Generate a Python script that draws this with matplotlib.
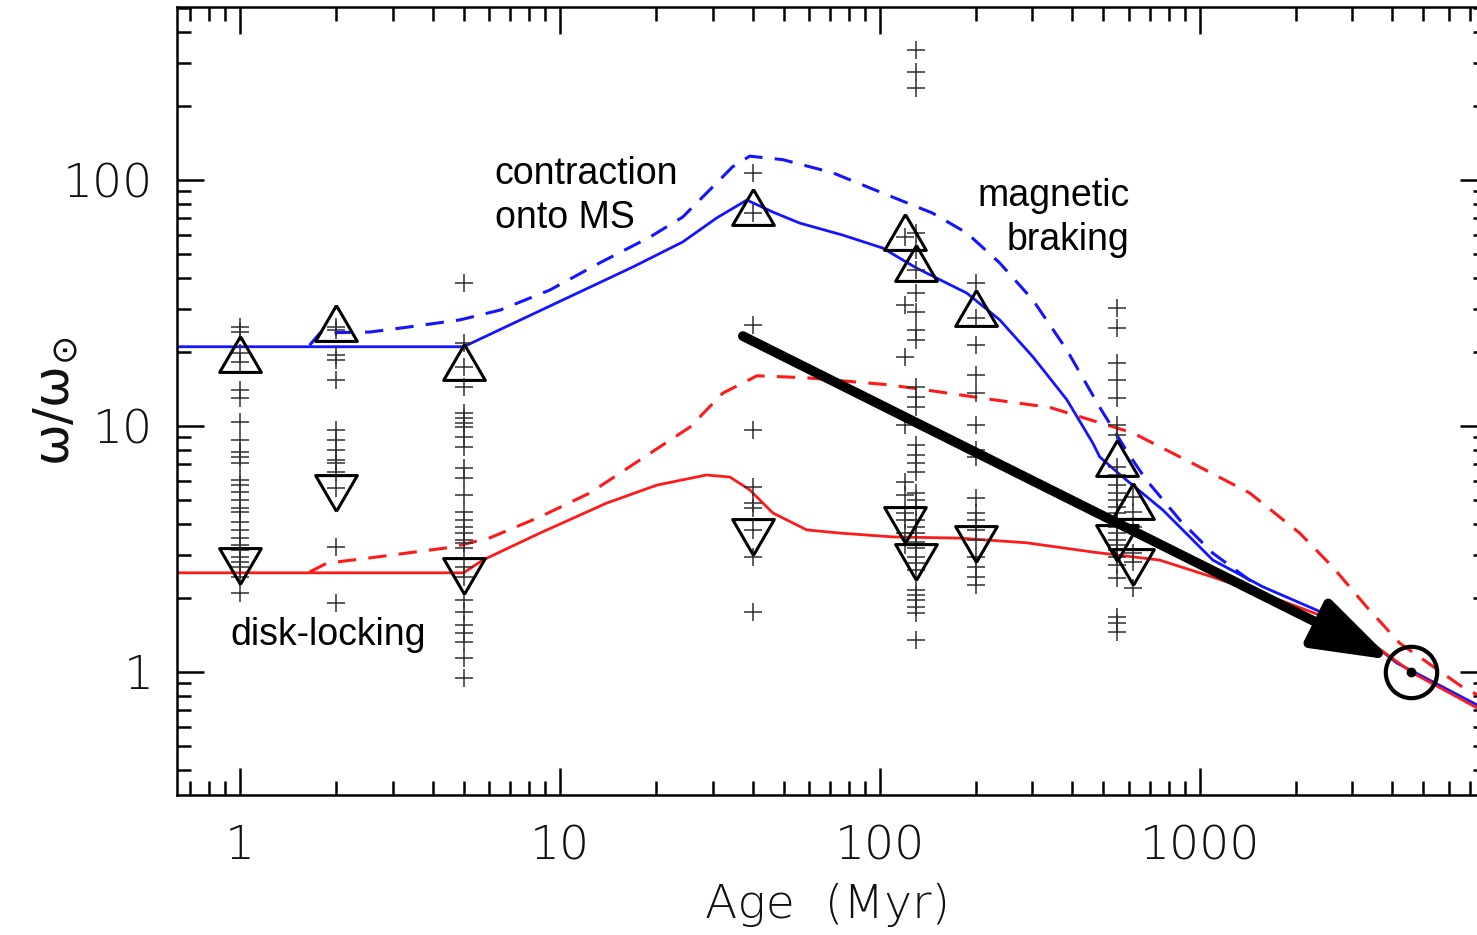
import numpy as np
import matplotlib.pyplot as plt
from matplotlib.ticker import LogLocator, NullFormatter

# individual stars (omega / omega_sun) in each cluster, age in Myr
plus_1 = [25.3, 24.1, 19.8, 18.2, 14.0, 13.0, 10.4, 8.77, 7.84, 7.49, 7.08, 6.03, 5.76,
          5.39, 5.0, 4.64, 4.47, 4.07, 3.78, 3.50, 3.28, 3.13, 2.93, 2.80, 2.67, 2.43, 2.10]
plus_2 = [25.3, 24.6, 19.5, 18.5, 15.4, 9.6, 8.8, 8.0, 7.3, 7.1, 6.5, 5.6, 3.22, 1.91]
plus_5 = [38.1, 21.7, 17.4, 14.4, 11.3, 10.8, 10.3, 9.9, 9.0, 8.2, 6.75, 6.15, 5.25, 4.47,
          4.15, 3.89, 3.67, 3.44, 3.35, 3.19, 2.67, 2.43, 1.96, 1.75, 1.55, 1.44, 1.32,
          1.14, 0.945]
plus_40 = [107, 73.6, 25.8, 9.6, 5.65, 4.86, 4.64, 3.78, 2.93, 1.75]
plus_120 = [58.7, 31.0, 19.1, 10.1, 5.92, 5.24, 4.43, 4.15, 3.67, 3.28]
plus_130 = [338, 275, 237, 60.9, 51.9, 43.1, 34.7, 29.1, 24.6, 22.4, 14.4, 13.1, 11.9,
            8.37, 7.62, 7.07, 6.50, 5.35, 5.0, 4.69, 4.15, 3.89, 3.67, 3.37, 3.19, 2.93,
            2.77, 2.60, 2.15, 2.06, 1.96, 1.84, 1.74, 1.35]
plus_200 = [38.1, 27.5, 21.3, 16.1, 13.6, 10.1, 7.98, 7.49, 5.10, 4.43, 4.15, 3.78, 3.44,
            2.93, 2.67, 2.43, 2.26]
plus_550 = [30.2, 25.0, 18.0, 15.4, 13.0, 10.1, 9.2, 6.8, 6.3, 5.76, 5.35, 5.0, 4.69, 4.43,
            4.15, 3.89, 3.67, 3.44, 3.28, 3.13, 2.93, 2.72, 2.41, 1.67, 1.58, 1.45]
plus_620 = [5.14, 4.47, 3.89, 3.05, 2.80, 2.19]

# 90th (up) and 25th (down) percentiles
tri_age = [1, 2, 5, 40, 120, 130, 200, 550, 620]
tri_up = [19.6, 26.2, 18.2, 77.7, 61.5, 46.0, 30.2, 7.41, 4.96]
tri_down = [2.70, 5.34, 2.46, 3.54, 3.96, 2.80, 3.31, 3.35, 2.67]

# rotational evolution models
fast_age = [0.63, 5.0, 10.5, 16.9, 24.2, 30.9, 38.4, 46.3, 56.2, 76.6, 102, 130, 187, 237,
            301, 384, 463, 487, 574, 766, 1099, 1574, 2877, 4128, 7900]
fast_solid = [21.0, 21.0, 33.1, 44.3, 56.0, 70.1, 82.9, 74.1, 66.8, 59.7, 52.9, 43.9, 34.7,
              27.0, 19.1, 12.8, 8.53, 7.48, 6.21, 4.56, 2.85, 2.22, 1.58, 1.088, 0.70]
fast_dash_age = [1.65, 1.78, 2.55, 3.4, 4.87, 6.5, 9.3, 13.3, 19.1, 24.2, 30.9, 34.6, 39.2,
                 49.7, 71.2, 102, 146, 187, 237, 301, 384, 487, 602, 681, 866, 1099, 1471]
fast_dash = [21.3, 23.9, 24.1, 25.3, 27.0, 29.6, 35.7, 46.0, 58.6, 70.7, 97.3, 113, 125,
             121, 107, 88.5, 73.4, 60.9, 46.0, 32.5, 20.4, 11.9, 7.62, 6.03, 4.15, 3.04, 2.30]
slow_age = [0.63, 5.0, 5.74, 8.66, 14.0, 20.1, 28.7, 34.0, 39.2, 46.3, 59.1, 75.0, 110,
            178, 288, 465, 749, 1099, 1778, 2877, 4634, 7900]
slow_solid = [2.53, 2.53, 2.85, 3.67, 4.86, 5.75, 6.32, 6.2, 5.50, 4.43, 3.78, 3.67, 3.54,
              3.50, 3.35, 3.07, 2.85, 2.43, 1.96, 1.55, 0.99, 0.68]
slow_dash_age = [1.65, 1.87, 2.55, 4.63, 6.04, 8.66, 12.4, 17.8, 25.5, 32.3, 41.3, 59.1,
                 107, 140, 225, 340, 618, 1000, 1433, 2053, 2605, 3324, 4217, 6826, 7900]
slow_dash = [2.55, 2.77, 2.91, 3.22, 3.51, 4.27, 5.34, 7.28, 9.9, 13.6, 16.0, 15.7, 14.7,
             14.0, 12.8, 11.9, 9.37, 6.81, 5.34, 3.67, 2.67, 1.84, 1.31, 0.845, 0.78]

# arrow (start, tip) and the Sun
arrow_start = (37.3, 23.2)
arrow_tip = (3981, 1.119)
sun_age, sun_omega = 4570, 1.0

fig = plt.figure(figsize=(14.77, 9.35), dpi=100)
ax = fig.add_axes([0.1198, 0.1497, 0.8869, 0.8428])
ax.set_xscale('log')
ax.set_yscale('log')

blue = '#1414ff'
red = '#ff1a1a'
ax.plot(fast_age, fast_solid, color=blue, lw=2.0, zorder=2)
ax.plot(fast_dash_age, fast_dash, color=blue, lw=2.2, dashes=(6, 4), zorder=2)
ax.plot(slow_age, slow_solid, color=red, lw=2.0, zorder=2)
ax.plot(slow_dash_age, slow_dash, color=red, lw=2.2, dashes=(6, 4), zorder=2)

columns = [(1, plus_1), (2, plus_2), (5, plus_5), (40, plus_40), (120, plus_120),
           (130, plus_130), (200, plus_200), (550, plus_550), (620, plus_620)]
for age, vals in columns:
    ax.plot([age] * len(vals), vals, ls='none', marker='+', ms=13, mew=1.1,
            color='#303030', zorder=3)

up_tri = [(0, 0.86), (-1, -0.86), (1, -0.86), (0, 0.86)]
down_tri = [(0, -0.86), (-1, 0.86), (1, 0.86), (0, -0.86)]
ax.plot(tri_age, tri_up, ls='none', marker=up_tri, ms=30, mfc='none', mec='k',
        mew=2.2, zorder=4)
ax.plot(tri_age, tri_down, ls='none', marker=down_tri, ms=30, mfc='none', mec='k',
        mew=2.2, zorder=4)

ax.annotate('', xy=arrow_tip, xytext=arrow_start,
            arrowprops=dict(arrowstyle='-|>,head_length=4.8,head_width=1.6',
                            mutation_scale=10, lw=7, color='k',
                            shrinkA=0, shrinkB=0), zorder=5)

ax.plot(sun_age, sun_omega, marker='o', ms=37, mfc='none', mec='k', mew=3, zorder=6)
ax.plot(sun_age, sun_omega, marker='o', ms=6, color='k', zorder=6)

# text: va='baseline' anchors the last line's baseline
ax.text(6.26, 63.8, 'contraction\nonto MS', fontsize=27, family='Liberation Sans',
        va='baseline', ha='left', linespacing=1.3)
ax.text(604, 51.9, 'magnetic\nbraking', fontsize=27, family='Liberation Sans',
        va='baseline', ha='right', multialignment='right', linespacing=1.3)
ax.text(0.93, 1.29, 'disk-locking', fontsize=27, family='Liberation Sans',
        va='baseline', ha='left')

ax.set_xlim(0.635, 7900)
ax.set_ylim(0.316, 505)

ax.set_xticks([1, 10, 100, 1000])
ax.set_xticklabels(['1', '10', '100', '1000'])
ax.set_yticks([1, 10, 100])
ax.set_yticklabels(['1', '10', '100'])
ax.xaxis.set_minor_locator(LogLocator(base=10, subs=np.arange(2, 10)))
ax.yaxis.set_minor_locator(LogLocator(base=10, subs=np.arange(2, 10)))
ax.xaxis.set_minor_formatter(NullFormatter())
ax.yaxis.set_minor_formatter(NullFormatter())

ax.tick_params(which='both', direction='in', top=True, right=True, width=1.8,
               color='k', labelsize=34, labelcolor='#111111')
ax.tick_params(which='major', length=19.5)
ax.tick_params(which='minor', length=10)
ax.tick_params(axis='x', pad=21)
ax.tick_params(axis='y', pad=17)
for lab in ax.get_xticklabels() + ax.get_yticklabels():
    lab.set_fontweight('light')

for side in ['left', 'bottom', 'top']:
    ax.spines[side].set_linewidth(1.8)
ax.spines['right'].set_visible(False)

ax.set_xlabel('Age  (Myr)', fontsize=34, fontweight='light', color='#111111')
ax.xaxis.set_label_coords(0.497, -0.112)
ax.set_ylabel(r'$\mathrm{\omega}/\mathrm{\omega}_{\odot}$', fontsize=36, color='#111111')
ax.yaxis.set_label_coords(-0.074, 0.50)

fig.savefig('out.png', dpi=100)
